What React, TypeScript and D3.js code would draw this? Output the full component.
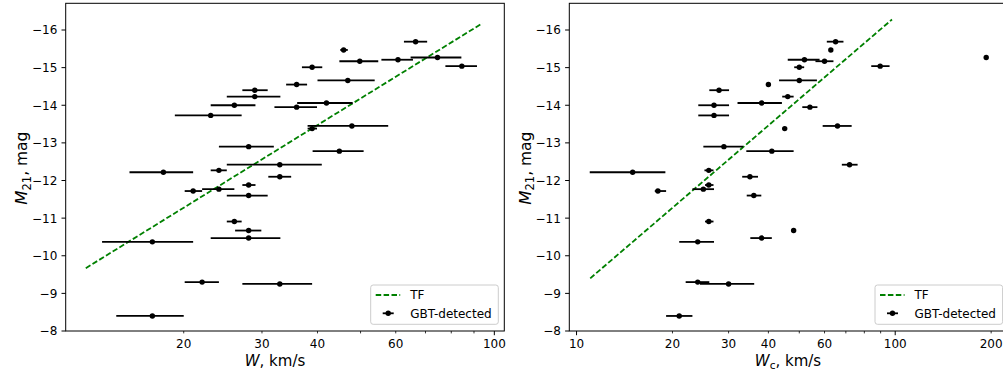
import React from 'react';
import * as d3 from 'd3';

// Absolute HI magnitude M21 (shared by both panels)
const mag = [-15.69, -15.47, -15.17, -15.21, -15.27, -15.04, -15.01, -14.66, -14.55, -14.40,
  -14.23, -14.00, -13.95, -14.06, -13.73, -13.45, -13.38, -12.90, -12.78, -12.42,
  -12.22, -12.27, -12.10, -11.72, -11.77, -11.88, -11.60, -10.91, -10.67, -10.47,
  -10.37, -9.30, -9.25, -8.40];

// Left panel: W (km/s) with lower / upper error limits
const wLeft = [66.5, 45.8, 49.8, 60.7, 74.5, 84.5, 38.9, 46.8, 35.9, 28.9,
  28.9, 26.0, 35.9, 41.9, 23.0, 47.8, 38.9, 28.0, 44.8, 32.9,
  18.0, 24.0, 32.9, 21.0, 24.0, 28.0, 28.0, 26.0, 28.0, 28.0,
  17.0, 22.0, 32.9, 17.0];
const wLeftLo = [62.6, 45.0, 44.8, 55.7, 64.8, 77.6, 36.9, 40.0, 34.0, 27.1,
  25.0, 23.0, 32.0, 36.0, 19.1, 38.0, 38.0, 24.0, 39.0, 25.0,
  15.1, 23.0, 31.0, 20.1, 22.0, 27.1, 25.0, 25.0, 26.1, 23.0,
  13.1, 20.1, 27.1, 14.1];
const wLeftHi = [70.6, 46.8, 54.8, 65.6, 84.3, 91.4, 41.0, 53.8, 37.9, 30.9,
  33.0, 29.0, 39.9, 48.0, 27.0, 57.7, 39.9, 31.9, 50.8, 40.9,
  21.0, 25.0, 34.9, 22.0, 26.0, 29.0, 30.9, 27.0, 29.9, 33.0,
  21.0, 24.0, 38.9, 20.0];

// Right panel: Wc (km/s) with lower / upper error limits
const wRight = [65.0, 62.8, 60.0, 51.9, 193.0, 89.7, 50.0, 50.0, 40.0, 28.0,
  46.0, 27.0, 54.0, 38.1, 27.0, 65.9, 45.0, 29.0, 41.0, 71.9,
  15.0, 26.0, 35.0, 18.0, 25.0, 26.0, 36.0, 26.0, 48.0, 38.1,
  24.0, 24.0, 30.0, 21.0];
const wRightLo = [61.0, 62.8, 56.2, 46.0, 193.0, 84.1, 48.2, 43.2, 40.0, 26.1,
  44.2, 24.1, 51.1, 32.0, 24.1, 59.2, 45.0, 25.0, 34.1, 68.0,
  11.0, 25.2, 33.1, 17.6, 23.1, 25.3, 34.2, 25.3, 48.0, 35.1,
  21.0, 22.0, 24.4, 19.1];
const wRightHi = [68.8, 62.8, 64.0, 57.9, 193.0, 96.0, 51.8, 56.8, 40.0, 30.1,
  48.0, 30.1, 57.0, 44.1, 30.1, 73.0, 45.0, 33.3, 48.0, 76.2,
  19.0, 26.9, 37.1, 19.1, 27.0, 26.9, 38.0, 26.9, 48.0, 41.0,
  27.0, 26.1, 36.1, 23.1];

// Tully-Fisher relation end points
const tfLeftW = [12.04, 94.0];
const tfLeftM = [-9.67, -16.18];
const tfRightW = [11.04, 97.7];
const tfRightM = [-9.40, -16.28];

// Ticks
const yTicks = [-16, -15, -14, -13, -12, -11, -10, -9, -8];
const leftMajor = [100];
const leftMinor = [20, 30, 40, 50, 60, 70, 80, 90];
const leftLabels = [20, 30, 40, 60, 100];
const rightMajor = [10, 100];
const rightMinor = [20, 30, 40, 50, 60, 70, 80, 90, 200];
const rightLabels = [10, 20, 30, 40, 60, 100, 200];

const FONT = 'DejaVu Sans, sans-serif';
const TOP = 3.3;
const BOTTOM = 331;

type PanelProps = {
  x0: number; x1: number; dom: [number, number];
  w: number[]; lo: number[]; hi: number[];
  tfW: number[]; tfM: number[];
  major: number[]; minor: number[]; labels: number[];
  xLabelX: number; yLabelX: number; sub: boolean;
  legendX: number;
};

function Panel(p: PanelProps) {
  const x = d3.scaleLog().domain(p.dom).range([p.x0, p.x1]);
  const y = d3.scaleLinear().domain([-8, -16.71]).range([BOTTOM, TOP]);
  const tfLine = d3.line<number>().x((_, i) => x(p.tfW[i])).y((d) => y(d));
  const fmt = (v: number) => (v < 0 ? '\u2212' + Math.abs(v) : String(v));
  const lx = p.legendX;
  return (
    <g>
      {/* TF line */}
      <path d={tfLine(p.tfM) || ''} fill="none" stroke="#008000" strokeWidth={1.8}
        strokeDasharray="5.5,2.4" />
      {/* error bars */}
      {p.w.map((v, i) => (
        p.hi[i] > p.lo[i] ? (
          <line key={'e' + i} x1={x(p.lo[i])} x2={x(p.hi[i])} y1={y(mag[i])} y2={y(mag[i])}
            stroke="#000" strokeWidth={1.8} />
        ) : null
      ))}
      {p.w.map((v, i) => (
        <circle key={'c' + i} cx={x(v)} cy={y(mag[i])} r={2.7} fill="#000" />
      ))}
      {/* frame */}
      <rect x={p.x0} y={TOP} width={p.x1 - p.x0} height={BOTTOM - TOP} fill="none"
        stroke="#000" strokeWidth={1} />
      {/* y ticks */}
      {yTicks.map((t) => (
        <g key={'y' + t}>
          <line x1={p.x0 - 4.2} x2={p.x0} y1={y(t)} y2={y(t)} stroke="#000" strokeWidth={1} />
          <text x={p.x0 - 8.4} y={y(t) + 4.4} textAnchor="end" fontSize={12} fontFamily={FONT}
            fill="#000">{fmt(t)}</text>
        </g>
      ))}
      {/* x ticks */}
      {p.major.map((t) => (
        <line key={'M' + t} x1={x(t)} x2={x(t)} y1={BOTTOM} y2={BOTTOM + 4.2} stroke="#000" strokeWidth={1} />
      ))}
      {p.minor.filter((t) => x(t) <= p.x1 + 0.1).map((t) => (
        <line key={'m' + t} x1={x(t)} x2={x(t)} y1={BOTTOM} y2={BOTTOM + 2.4} stroke="#000" strokeWidth={0.8} />
      ))}
      {p.labels.map((t) => (
        <text key={'l' + t} x={x(t)} y={348.2} textAnchor="middle" fontSize={12} fontFamily={FONT}
          fill="#000">{t}</text>
      ))}
      {/* axis labels */}
      <text x={p.xLabelX} y={366} textAnchor="middle" fontSize={15} fontFamily={FONT} fill="#000">
        <tspan fontStyle="italic">W</tspan>
        {p.sub ? <tspan fontSize={10.5} dy={3}>c</tspan> : null}
        <tspan dy={p.sub ? -3 : 0}>, km/s</tspan>
      </text>
      <text transform={`translate(${p.yLabelX},${(TOP + BOTTOM) / 2 + 1}) rotate(-90)`} textAnchor="middle"
        fontSize={15.5} fontFamily={FONT} fill="#000">
        <tspan fontStyle="italic" fontSize={16.5}>M</tspan>
        <tspan fontSize={11.5} dy={3.5}>21</tspan>
        <tspan dy={-3.5}>, mag</tspan>
      </text>
      {/* legend */}
      <rect x={lx} y={285} width={127.6} height={39.3} rx={2.5} ry={2.5} fill="#fff" fillOpacity={0.8}
        stroke="#cccccc" strokeWidth={1} />
      <line x1={lx + 5} x2={lx + 29.5} y1={295} y2={295} stroke="#008000" strokeWidth={1.8}
        strokeDasharray="5.5,2.4" />
      <text x={lx + 39.5} y={299.4} fontSize={12} fontFamily={FONT} fill="#000">TF</text>
      <line x1={lx + 12} x2={lx + 23} y1={313.3} y2={313.3} stroke="#000" strokeWidth={1.8} />
      <circle cx={lx + 17.5} cy={313.3} r={2.7} fill="#000" />
      <text x={lx + 39.5} y={317.7} fontSize={12} fontFamily={FONT} fill="#000">GBT-detected</text>
    </g>
  );
}

export default function App() {
  return (
    <svg width={1003} height={377} style={{ position: 'fixed', left: 0, top: 0, background: '#fff' }}>
      <rect x={0} y={0} width={1003} height={377} fill="#fff" />
      <Panel x0={65.7} x1={504.3} dom={[10.85, 105.3]} w={wLeft} lo={wLeftLo} hi={wLeftHi}
        tfW={tfLeftW} tfM={tfLeftM} major={leftMajor} minor={leftMinor} labels={leftLabels}
        xLabelX={275} yLabelX={27} sub={false} legendX={370.7} />
      <Panel x0={569.3} x1={1008.3} dom={[9.49, 226.4]} w={wRight} lo={wRightLo} hi={wRightHi}
        tfW={tfRightW} tfM={tfRightM} major={rightMajor} minor={rightMinor} labels={rightLabels}
        xLabelX={788} yLabelX={530.7} sub={true} legendX={875} />
    </svg>
  );
}
